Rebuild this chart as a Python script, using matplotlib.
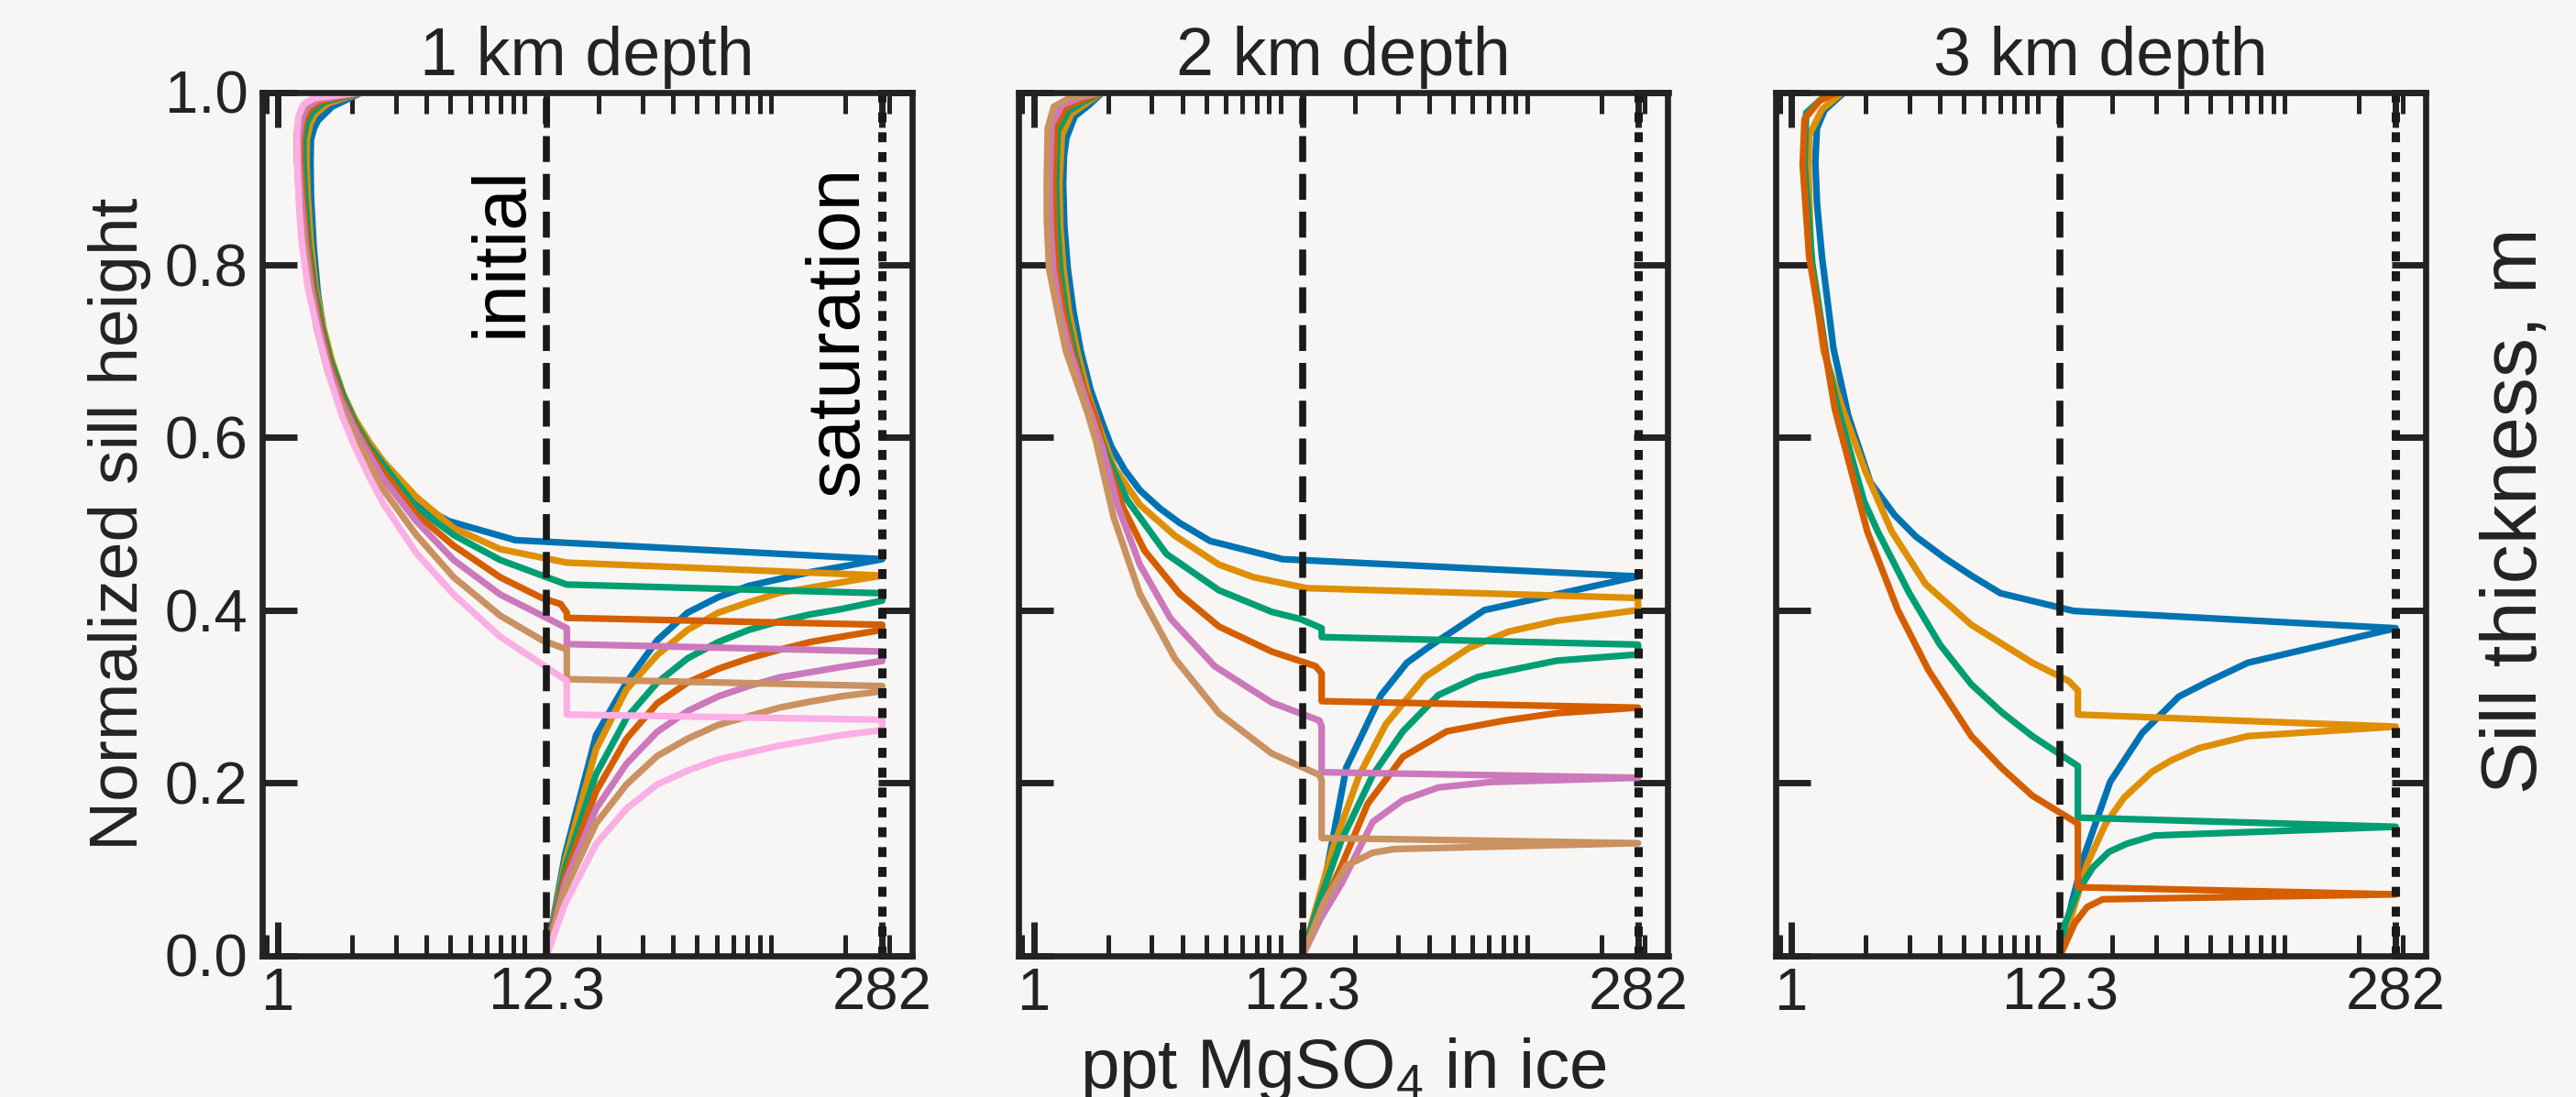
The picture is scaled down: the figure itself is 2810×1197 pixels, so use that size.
import matplotlib
matplotlib.use("Agg")
import matplotlib.pyplot as plt
from matplotlib.ticker import FixedLocator, FixedFormatter, LogLocator, NullFormatter, NullLocator

plt.rcParams['font.family'] = ['Liberation Sans', 'DejaVu Sans']
plt.rcParams['mathtext.default'] = 'regular'

# ---------------- data (ppt MgSO4 in ice, normalized sill height) ----------------
panel_titles = ["1 km depth", "2 km depth", "3 km depth"]
x_tick_values = [1, 12.3, 282]
x_tick_labels = ["1", "12.3", "282"]
y_tick_values = [0.0, 0.2, 0.4, 0.6, 0.8, 1.0]
initial_ppt = 12.3
saturation_ppt = 282

# 1 km depth
km1_blue_ppt = [12.3, 14.6, 19.5, 25.9, 34.5, 45.8, 61, 81, 108, 144, 191, 282,
                9.18, 4.94, 3.64, 2.68, 2.34, 2.06, 1.84, 1.656, 1.549, 1.452, 1.396, 1.361,
                1.355, 1.361, 1.40, 1.452, 1.656, 2.2]
km1_blue_h = [0, .117, .255, .316, .365, .397, .415, .428, .436, .444, .450, .459,
              .481, .503, .523, .556, .577, .604, .635, .677, .715, .766, .82, .880,
              .92, .945, .958, .967, .983, 1.0]
km1_orange_ppt = [12.3, 14.6, 19.5, 25.9, 34.5, 45.8, 61, 81, 108, 144, 191, 282,
                  14.8, 7.97, 5.16, 3.64, 2.68, 2.34, 2.06, 1.84, 1.65, 1.52, 1.42, 1.36, 1.32,
                  1.305, 1.31, 1.35, 1.42, 1.6, 2.2]
km1_orange_h = [0, .109, .239, .308, .348, .377, .397, .409, .420, .426, .432, .440,
                .455, .4706, .495, .531, .572, .595, .6205, .65, .69, .73, .775, .825, .88,
                .92, .945, .963, .975, .987, 1.0]
km1_green_ppt = [12.3, 14.6, 19.5, 25.9, 34.5, 45.8, 61, 81, 108, 144, 191, 282, 282,
                 14.8, 7.97, 5.16, 3.64, 2.68, 2.34, 2.06, 1.83, 1.63, 1.50, 1.40, 1.33, 1.29,
                 1.27, 1.27, 1.31, 1.38, 1.55, 2.2]
km1_green_h = [0, .101, .210, .275, .316, .344, .363, .377, .387, .395, .401, .411, .4195,
               .4296, .458, .487, .519, .568, .59, .6165, .65, .69, .73, .775, .825, .88,
               .92, .945, .965, .977, .989, 1.0]
km1_red_ppt = [12.3, 14.6, 19.5, 25.9, 34.5, 45.8, 61, 81, 108, 144, 191, 282, 282,
               14.84, 14.84, 14.0, 11.8, 7.97, 5.16, 3.64, 2.68, 2.34, 2.06, 1.82, 1.62, 1.48,
               1.38, 1.31, 1.26, 1.235, 1.235, 1.27, 1.34, 1.5, 2.2]
km1_red_h = [0, .092, .190, .251, .292, .316, .332, .344, .354, .363, .369, .377, .383,
             .391, .397, .407, .4138, .438, .4746, .511, .560, .585, .612, .645, .685, .73,
             .775, .825, .88, .92, .945, .967, .98, .99, 1.0]
km1_purple_ppt = [12.3, 14.6, 19.5, 25.9, 34.5, 45.8, 61, 81, 108, 144, 191, 282, 282,
                  14.84, 14.84, 11.8, 7.97, 5.16, 3.64, 2.68, 2.34, 2.06, 1.80, 1.60, 1.46,
                  1.36, 1.29, 1.24, 1.215, 1.215, 1.25, 1.31, 1.45, 2.2]
km1_purple_h = [0, .084, .170, .222, .259, .283, .300, .312, .322, .328, .334, .341, .352,
                .3606, .379, .3935, .418, .458, .503, .5516, .58, .608, .643, .683, .73,
                .775, .825, .88, .92, .945, .969, .982, .991, 1.0]
km1_tan_ppt = [12.3, 14.6, 19.5, 25.9, 34.5, 45.8, 61, 81, 108, 144, 191, 282, 282,
               14.84, 14.84, 11.8, 7.97, 5.16, 3.64, 2.68, 2.34, 2.06, 1.80, 1.60, 1.44,
               1.33, 1.27, 1.22, 1.195, 1.19, 1.22, 1.28, 1.42, 2.2]
km1_tan_h = [0, .076, .153, .198, .231, .251, .267, .277, .287, .294, .300, .306, .312,
             .320, .3545, .365, .3935, .438, .487, .539, .57, .600, .636, .675, .725,
             .78, .825, .875, .92, .95, .972, .985, .993, 1.0]
km1_pink_ppt = [12.3, 14.6, 19.5, 25.9, 34.5, 45.8, 61, 81, 108, 144, 191, 282, 282,
                14.84, 14.84, 11.8, 7.97, 5.16, 3.64, 2.68, 2.34, 2.06, 1.82, 1.64, 1.47,
                1.32, 1.25, 1.22, 1.20, 1.194, 1.21, 1.27, 1.4, 2.2]
km1_pink_h = [0, .060, .129, .170, .198, .214, .227, .235, .243, .249, .255, .261, .273,
              .279, .318, .337, .369, .418, .466, .523, .555, .588, .625, .665, .715,
              .775, .825, .864, .91, .95, .972, .986, .993, 1.0]

# 2 km depth
km2_blue_ppt = [12.3, 15.07, 18.5, 25.6, 32.6, 40.3, 67.2, 282,
                10.2, 5.19, 3.90, 3.24, 2.69, 2.34, 2.065, 1.90, 1.70, 1.55, 1.45, 1.374, 1.33,
                1.315, 1.325, 1.356, 1.466, 1.673, 1.907]
km2_blue_h = [0, .0833, .2176, .3016, .339, .358, .400, .439,
              .459, .480, .501, .518, .539, .562, .589, .616, .655, .70, .745, .795, .845,
              .894, .925, .947, .972, .985, 1.0]
km2_orange_ppt = [12.3, 16.35, 20.9, 26.8, 38.6, 58.1, 84.1, 132, 282, 282,
                  12.8, 7.8, 5.63, 3.74, 2.69, 2.11, 1.865, 1.66, 1.50, 1.39, 1.32, 1.28,
                  1.27, 1.30, 1.42, 1.65, 1.907]
km2_orange_h = [0, .125, .209, .268, .3225, .356, .375, .3876, .400, .414,
                .4254, .438, .4527, .486, .522, .566, .608, .65, .70, .745, .795, .845,
                .894, .95, .975, .988, 1.0]
km2_green_ppt = [12.3, 14.5, 17.7, 23.7, 31.4, 43.7, 63.1, 87.6, 132, 282, 282,
                 14.7, 14.7, 12.03, 9.21, 5.63, 3.45, 2.386, 1.98, 1.79, 1.60, 1.46, 1.35,
                 1.28, 1.245, 1.23, 1.25, 1.38, 1.62, 1.907]
km2_green_h = [0, .065, .1337, .209, .2596, .3016, .3225, .331, .3414, .3486, .360,
               .3687, .379, .3897, .398, .423, .465, .528, .579, .616, .655, .70, .745,
               .795, .845, .894, .955, .978, .99, 1.0]
km2_red_ppt = [12.3, 14.5, 17.7, 22.6, 31.4, 47.3, 80.9, 132, 282,
               14.7, 14.7, 13.9, 9.21, 5.63, 3.90, 2.81, 2.29, 1.945, 1.79, 1.58, 1.43, 1.32,
               1.24, 1.21, 1.20, 1.22, 1.35, 1.6, 1.907]
km2_red_h = [0, .052, .104, .1757, .230, .2596, .272, .2806, .287,
             .2945, .3267, .335, .352, .381, .419, .469, .520, .579, .621, .66, .70, .745,
             .795, .845, .894, .96, .982, .992, 1.0]
km2_purple_ppt = [12.3, 14.5, 17.7, 23.7, 31.4, 43.7, 71.3, 282,
                  14.7, 14.7, 14.4, 9.21, 5.41, 3.59, 2.69, 2.196, 1.90, 1.62, 1.40, 1.28,
                  1.20, 1.17, 1.16, 1.18, 1.3, 1.55, 1.907]
km2_purple_h = [0, .042, .0833, .1547, .180, .1945, .2008, .2058,
                .2122, .265, .272, .293, .335, .390, .4527, .520, .587, .645, .70, .745,
                .795, .845, .894, .962, .985, .994, 1.0]
km2_tan_ppt = [12.3, 15.07, 18.5, 23.7, 29.0, 282,
               14.7, 14.7, 14.4, 9.21, 5.63, 3.74, 2.69, 2.11, 1.79, 1.65, 1.35, 1.24,
               1.154, 1.13, 1.128, 1.139, 1.205, 1.403, 1.907]
km2_tan_h = [0, .0623, .104, .119, .1232, .130,
             .136, .203, .209, .234, .2806, .3435, .419, .507, .595, .629, .70, .75,
             .795, .85, .894, .958, .983, .9935, 1.0]

# 3 km depth
km3_blue_ppt = [12.3, 13.7, 15.4, 19.6, 26.5, 37.3, 49.6, 70.9, 282,
                13.94, 7.03, 5.36, 4.2, 3.2, 2.62, 2.09, 1.70, 1.48, 1.33, 1.27, 1.249,
                1.268, 1.361, 1.64]
km3_blue_h = [0, .061, .116, .201, .258, .300, .318, .339, .379,
              .399, .4196, .440, .46, .485, .51, .548, .625, .703, .809, .87, .919,
              .958, .979, 1.0]
km3_orange_ppt = [12.3, 13.7, 15.85, 18.8, 22.3, 28.9, 34.7, 44.8, 70.9, 282,
                  14.5, 14.5, 13.3, 9.48, 5.36, 3.5, 2.55, 2.0, 1.615, 1.35, 1.20, 1.17,
                  1.18, 1.33, 1.615]
km3_orange_h = [0, .047, .1067, .1526, .1826, .2125, .226, .240, .254, .265,
                .279, .307, .318, .339, .383, .43, .491, .56, .6325, .70, .809, .916,
                .95, .98, 1.0]
km3_green_ppt = [12.3, 12.9, 14.5, 16.7, 19.4, 23.0, 29.7, 282,
                 14.5, 14.5, 9.48, 7.13, 5.36, 4.0, 3.0, 2.24, 1.97, 1.548, 1.40, 1.214,
                 1.13, 1.147, 1.36, 1.57]
km3_green_h = [0, .0376, .0744, .102, .120, .1296, .1389, .149,
               .1596, .2194, .254, .2815, .314, .36, .42, .491, .526, .6325, .686, .802,
               .916, .976, .995, 1.0]
km3_red_ppt = [12.3, 14.1, 15.8, 18.3, 282,
               14.5, 14.5, 9.48, 7.13, 5.36, 3.6, 2.7, 2.03, 1.50, 1.18, 1.11, 1.13,
               1.30, 1.55]
km3_red_h = [0, .0376, .056, .065, .0707,
             .079, .1527, .185, .217, .254, .33, .40, .491, .6325, .809, .916, .969,
             .99, 1.0]

colors = ['#0173b2', '#de8f05', '#029e73', '#d55e00', '#cc78bc', '#ca9161', '#fbafe4']

panels = [
    [(km1_blue_ppt, km1_blue_h), (km1_orange_ppt, km1_orange_h), (km1_green_ppt, km1_green_h),
     (km1_red_ppt, km1_red_h), (km1_purple_ppt, km1_purple_h), (km1_tan_ppt, km1_tan_h),
     (km1_pink_ppt, km1_pink_h)],
    [(km2_blue_ppt, km2_blue_h), (km2_orange_ppt, km2_orange_h), (km2_green_ppt, km2_green_h),
     (km2_red_ppt, km2_red_h), (km2_purple_ppt, km2_purple_h), (km2_tan_ppt, km2_tan_h)],
    [(km3_blue_ppt, km3_blue_h), (km3_orange_ppt, km3_orange_h), (km3_green_ppt, km3_green_h),
     (km3_red_ppt, km3_red_h)],
]

# ---------------- style / layout ----------------
BG = '#f7f6f4'
INK = '#232323'
W_PX, H_PX = 2810, 1197
fig = plt.figure(figsize=(W_PX / 100, H_PX / 100), dpi=100, facecolor=BG)

ax_left_px = [286, 1110.5, 1937]
ax_w_px = 709
ax_top_px, ax_bot_px = 100.5, 1042.5

for i, (left_px, curves) in enumerate(zip(ax_left_px, panels)):
    ax = fig.add_axes([left_px / W_PX, 1 - ax_bot_px / H_PX, ax_w_px / W_PX,
                       (ax_bot_px - ax_top_px) / H_PX])
    ax.set_facecolor(BG)
    ax.set_xscale('log')
    for (xs, ys), c in zip(curves, colors):
        ax.plot(xs, ys, color=c, lw=5.2, solid_capstyle='round', solid_joinstyle='round', zorder=2)
    ax.axvline(initial_ppt, color='#1a1a1a', lw=5.5, ls=(0, (3.7, 1.7)), zorder=3)
    ax.axvline(saturation_ppt, color='#1a1a1a', lw=6.5, ls=(0, (1.2, 1.2)), zorder=3)

    ax.set_xlim(0.863, 373)
    ax.set_ylim(0, 1)
    ax.xaxis.set_major_locator(FixedLocator(x_tick_values))
    ax.xaxis.set_major_formatter(FixedFormatter(x_tick_labels))
    ax.xaxis.set_minor_locator(LogLocator(base=10, subs=[1, 2, 3, 4, 5, 6, 7, 8, 9], numticks=20))
    ax.xaxis.set_minor_formatter(NullFormatter())
    ax.yaxis.set_major_locator(FixedLocator(y_tick_values))
    ax.yaxis.set_minor_locator(NullLocator())
    ax.yaxis.set_major_formatter(FixedFormatter([f"{v:.1f}" for v in y_tick_values]))

    ax.tick_params(which='major', direction='in', length=27, width=5, color=INK,
                   top=True, right=True, labelsize=47, labelcolor=INK)
    ax.tick_params(axis='x', which='minor', direction='in', length=16.5, width=3.6,
                   color=INK, top=True, bottom=True)
    ax.tick_params(axis='x', which='major', pad=9)
    ax.tick_params(axis='y', which='major', pad=11)
    if i > 0:
        ax.tick_params(axis='y', labelleft=False)
    for sp in ax.spines.values():
        sp.set_linewidth(4.8)
        sp.set_color(INK)
        sp.set_zorder(4)
    ax.set_title(panel_titles[i], fontsize=53, pad=13.5, color=INK)

    if i == 0:
        ax.text(11.25, 0.915, 'initial', rotation=90, ha='right', va='top',
                fontsize=59, color='black')
        ax.text(260, 0.915, 'saturation', rotation=90, ha='right', va='top',
                fontsize=59, color='black')

fig.text(0.0465, 1 - 571.5 / H_PX, 'Normalized sill height', rotation=90,
         ha='center', va='center', fontsize=54, color=INK)
fig.text(1465 / W_PX, (H_PX - 1186.7) / H_PX, 'ppt MgSO$_4$ in ice',
         ha='center', va='baseline', fontsize=55, color=INK)
fig.text(2745 / W_PX, 1 - 557.5 / H_PX, 'Sill thickness, m', rotation=90,
         ha='center', va='center', fontsize=62, color=INK)

fig.savefig('out.png', dpi=100, facecolor=BG)
